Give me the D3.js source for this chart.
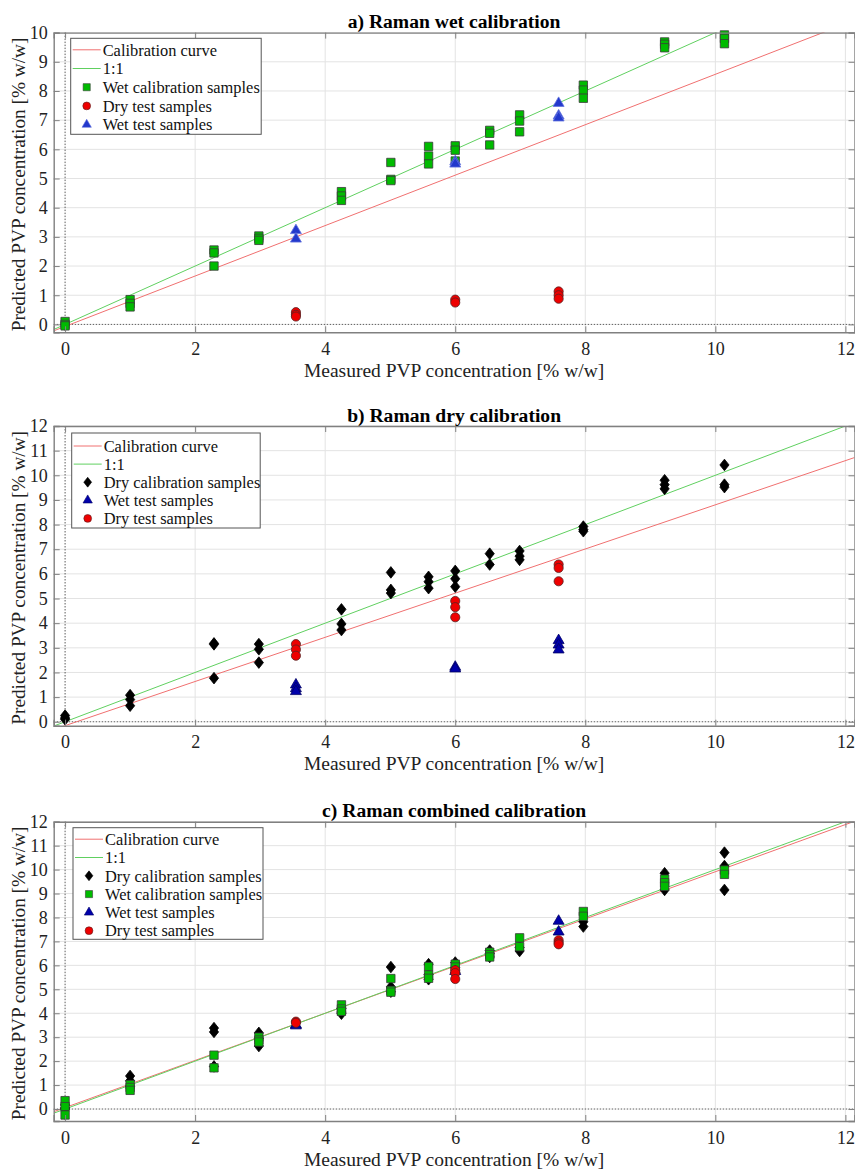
<!DOCTYPE html>
<html><head><meta charset="utf-8">
<script src="https://cdn.jsdelivr.net/npm/d3@7"></script>
<style>body{margin:0;background:#fff} svg{display:block}</style>
</head><body><svg id="chart" width="855" height="1169"></svg>
<script>
// ---------- data ----------
const xTicks = [0, 2, 4, 6, 8, 10, 12];
const yTicksA = [0,1,2,3,4,5,6,7,8,9,10];
const yTicksBC = [0,1,2,3,4,5,6,7,8,9,10,11,12];

// Panel a) Raman wet calibration
const aWetCal = [[0,0.1],[0,0.0],[0,-0.05],[1,0.85],[1,0.72],[1,0.6],[2.29,2.55],[2.29,2.45],[2.29,2.0],
  [2.98,3.03],[2.98,2.95],[2.98,2.88],[4.25,4.55],[4.25,4.4],[4.25,4.25],[5.01,5.55],[5.01,4.97],[5.01,4.93],
  [5.59,6.1],[5.59,5.77],[5.59,5.5],[6,6.12],[6,5.97],[6,5.6],[6.53,6.65],[6.53,6.55],[6.53,6.15],
  [6.99,7.18],[6.99,6.97],[6.99,6.6],[7.97,8.2],[7.97,8.03],[7.97,7.75],[9.22,9.68],[9.22,9.6],[9.22,9.48],
  [10.14,9.92],[10.14,9.8],[10.14,9.62]];
const aDryTest = [[3.55,0.42],[3.55,0.33],[3.55,0.27],[6,0.85],[6,0.75],[7.59,1.13],[7.59,1.0],[7.59,0.88]];
const aWetTest = [[3.55,3.22],[3.55,2.93],[6,5.58],[6,5.5],[7.59,7.58],[7.59,7.15],[7.59,7.08]];
const aCalib = {slope: 0.864, intercept: -0.069};

// Panel b) Raman dry calibration
const bDryCal = [[0,0.25],[0,0.15],[0,0.1],[1,1.08],[1,0.9],[1,0.65],[2.29,3.18],[2.29,3.14],[2.29,1.77],
  [2.98,3.15],[2.98,2.94],[2.98,2.4],[4.25,4.56],[4.25,3.97],[4.25,3.72],[5.01,6.06],[5.01,5.35],[5.01,5.22],
  [5.59,5.88],[5.59,5.68],[5.59,5.42],[6,6.12],[6,5.8],[6,5.48],[6.53,6.82],[6.53,6.38],
  [6.99,6.93],[6.99,6.72],[6.99,6.57],[7.97,7.92],[7.97,7.8],[7.97,7.73],[9.22,9.8],[9.22,9.62],[9.22,9.45],
  [10.14,10.42],[10.14,9.62],[10.14,9.52]];
const bWetTest = [[3.55,1.5],[3.55,1.35],[3.55,1.23],[6,2.22],[6,2.15],[7.59,3.3],[7.59,3.12],[7.59,2.92]];
const bDryTest = [[3.55,3.15],[3.55,2.93],[3.55,2.68],[6,4.9],[6,4.65],[6,4.24],[7.59,6.38],[7.59,6.24],[7.59,5.7]];
const bCalib = {slope: 0.896, intercept: -0.158};

// Panel c) Raman combined calibration
const cDryCal = [[0,0.17],[0,0.05],[0,0.0],[1,1.38],[1,1.18],[1,0.95],[2.29,3.38],[2.29,3.22],[2.29,1.78],
  [2.98,3.18],[2.98,2.95],[2.98,2.63],[4.25,4.2],[4.25,4.05],[4.25,3.98],[5.01,5.93],[5.01,5.1],[5.01,4.9],
  [5.59,6.05],[5.59,5.62],[5.59,5.42],[6,6.12],[6,5.9],[6,5.7],[6.53,6.62],[6.53,6.5],[6.53,6.35],
  [6.99,6.75],[6.99,6.6],[7.97,7.82],[7.97,7.62],[9.22,9.85],[9.22,9.15],[10.14,10.71],[10.14,10.15],[10.14,9.15]];
const cWetCal = [[0,0.35],[0,0.1],[0,-0.25],[1,1.02],[1,0.9],[1,0.78],[2.29,2.25],[2.29,1.72],
  [2.98,3.0],[2.98,2.88],[2.98,2.8],[4.25,4.35],[4.25,4.18],[4.25,4.08],[5.01,5.45],[5.01,4.95],[5.01,4.88],
  [5.59,5.95],[5.59,5.6],[5.59,5.46],[6,6.05],[6,5.93],[6.53,6.55],[6.53,6.45],[6.53,6.35],
  [6.99,7.15],[6.99,6.78],[7.97,8.25],[7.97,8.05],[9.22,9.6],[9.22,9.45],[9.22,9.3],[10.14,9.98],[10.14,9.8]];
const cWetTest = [[3.55,3.52],[3.55,3.48],[6,5.75],[7.59,7.85],[7.59,7.4]];
const cDryTest = [[3.55,3.65],[3.55,3.6],[6,5.8],[6,5.68],[6,5.43],[7.59,7.05],[7.59,6.95],[7.59,6.88]];
const cCalib = {slope: 0.985, intercept: 0.06};

const titles = ["a) Raman wet calibration", "b) Raman dry calibration", "c) Raman combined calibration"];
const xLabel = "Measured PVP concentration [% w/w]";
const yLabel = "Predicted PVP concentration [% w/w]";

// ---------- styles ----------
const FONT = "Liberation Serif";
const styles = {
  wetCal:  {shape: "square",   fill: "#00bb00", stroke: "#3a3a3a", label: "Wet calibration samples"},
  dryCal:  {shape: "diamond",  fill: "#000000", stroke: "#000000", label: "Dry calibration samples"},
  dryTest: {shape: "circle",   fill: "#ee0000", stroke: "#552222", label: "Dry test samples"},
  wetTestA:{shape: "triangle", fill: "#2238cc", stroke: "#6070dd", label: "Wet test samples"},
  wetTest: {shape: "triangle", fill: "#0000aa", stroke: "#000066", label: "Wet test samples"}
};
const calColor = "#f07070", oneColor = "#60d060";

const svg = d3.select("#chart");
const xDomain = [-0.175, 12.14];
const xRange = [53.7, 854.5];

function symbolPath(shape, scale) {
  const s = scale || 1;
  if (shape === "square") return d3.symbol(d3.symbolSquare, 70 * s * s)();
  if (shape === "circle") return d3.symbol(d3.symbolCircle, 66 * s * s)();
  if (shape === "triangle") return d3.symbol(d3.symbolTriangle, 52 * s * s)();
  if (shape === "diamond") {
    const w = 4.6 * s, h = 5.8 * s;
    return `M0,${-h}L${w},0L0,${h}L${-w},0Z`;
  }
}

function drawPanel(cfg) {
  const g = svg.append("g");
  const x = d3.scaleLinear().domain(xDomain).range(xRange);
  const y = d3.scaleLinear().domain(cfg.yDomain).range([cfg.bottom, cfg.top]);
  const [x0, x1] = xRange;

  // grid
  g.append("g").selectAll("line").data(xTicks.filter(t => t !== 0)).join("line")
    .attr("x1", d => x(d)).attr("x2", d => x(d)).attr("y1", cfg.top).attr("y2", cfg.bottom)
    .attr("stroke", "#e3e3e3").attr("stroke-width", 1);
  g.append("g").selectAll("line").data(cfg.yTicks.filter(t => t !== 0)).join("line")
    .attr("x1", x0).attr("x2", x1).attr("y1", d => y(d)).attr("y2", d => y(d))
    .attr("stroke", "#e3e3e3").attr("stroke-width", 1);

  // dotted zero lines
  g.append("line").attr("x1", x(0)).attr("x2", x(0)).attr("y1", cfg.top).attr("y2", cfg.bottom)
    .attr("stroke", "#333").attr("stroke-width", 0.8).attr("stroke-dasharray", "1.5,1.5");
  g.append("line").attr("x1", x0).attr("x2", x1).attr("y1", y(0)).attr("y2", y(0))
    .attr("stroke", "#333").attr("stroke-width", 0.8).attr("stroke-dasharray", "1.5,1.5");

  // clip for lines
  const clipId = "clip" + cfg.id;
  svg.append("defs").append("clipPath").attr("id", clipId).append("rect")
    .attr("x", x0).attr("y", cfg.top).attr("width", x1 - x0).attr("height", cfg.bottom - cfg.top);
  const lines = g.append("g").attr("clip-path", `url(#${clipId})`);
  const xa = xDomain[0], xb = xDomain[1];
  lines.append("line").attr("x1", x(xa)).attr("y1", y(cfg.calib.slope * xa + cfg.calib.intercept))
    .attr("x2", x(xb)).attr("y2", y(cfg.calib.slope * xb + cfg.calib.intercept))
    .attr("stroke", calColor).attr("stroke-width", 1);
  lines.append("line").attr("x1", x(xa)).attr("y1", y(xa)).attr("x2", x(xb)).attr("y2", y(xb))
    .attr("stroke", oneColor).attr("stroke-width", 1);

  // series
  cfg.series.forEach(s => {
    const st = styles[s.style];
    g.append("g").selectAll("path").data(s.data).join("path")
      .attr("d", symbolPath(st.shape))
      .attr("transform", d => `translate(${x(d[0])},${y(d[1])})`)
      .attr("fill", st.fill).attr("stroke", st.stroke).attr("stroke-width", 0.8);
  });

  // axes
  const axisColor = "#808080";
  const bottom = g.append("g").attr("transform", `translate(0,${cfg.bottom})`)
    .call(d3.axisBottom(x).tickValues(xTicks).tickSize(-6).tickPadding(10).tickFormat(d3.format("d")));
  const left = g.append("g").attr("transform", `translate(${x0},0)`)
    .call(d3.axisLeft(y).tickValues(cfg.yTicks).tickSize(-6).tickPadding(6).tickFormat(d3.format("d")));
  const top = g.append("g").attr("transform", `translate(0,${cfg.top})`)
    .call(d3.axisTop(x).tickValues(xTicks).tickSize(-6).tickFormat(""));
  const right = g.append("g").attr("transform", `translate(${x1},0)`)
    .call(d3.axisRight(y).tickValues(cfg.yTicks).tickSize(-6).tickFormat(""));
  [bottom, left, top, right].forEach(a => {
    a.select(".domain").attr("stroke", axisColor).attr("stroke-width", 1.4);
    a.selectAll(".tick line").attr("stroke", axisColor);
    a.selectAll("text").style("font-family", FONT).style("font-size", "18px").attr("fill", "#222");
  });

  // title
  g.append("text").attr("x", (x0 + x1) / 2).attr("y", cfg.top - 4.5).attr("text-anchor", "middle")
    .style("font-family", FONT).style("font-size", "19.6px").style("font-weight", "bold").attr("fill", "#000")
    .text(cfg.title);
  // axis labels
  g.append("text").attr("x", (x0 + x1) / 2).attr("y", cfg.bottom + 44.5).attr("text-anchor", "middle")
    .style("font-family", FONT).style("font-size", "19.5px").attr("fill", "#222").text(xLabel);
  g.append("text").attr("transform", `translate(24.5,${(cfg.top + cfg.bottom) / 2 + 2}) rotate(-90)`)
    .attr("text-anchor", "middle").style("font-family", FONT).style("font-size", "19.3px").attr("fill", "#222")
    .text(yLabel);

  // legend
  const L = cfg.legend;
  const lg = g.append("g");
  lg.append("rect").attr("x", L.x).attr("y", L.y).attr("width", L.w).attr("height", L.h)
    .attr("fill", "#fff").attr("stroke", "#555").attr("stroke-width", 1);
  const entries = [{type: "line", color: calColor, label: "Calibration curve"},
                   {type: "line", color: oneColor, label: "1:1"}]
    .concat(cfg.series.map(s => ({type: "marker", style: s.style, label: styles[s.style].label})));
  entries.forEach((e, i) => {
    const cy = L.y + L.first + i * L.step;
    if (e.type === "line") {
      lg.append("line").attr("x1", L.x + 2).attr("x2", L.x + 30).attr("y1", cy).attr("y2", cy)
        .attr("stroke", e.color).attr("stroke-width", 1);
    } else {
      const st = styles[e.style];
      lg.append("path").attr("d", symbolPath(st.shape, 0.85)).attr("transform", `translate(${L.x + 16},${cy})`)
        .attr("fill", st.fill).attr("stroke", st.stroke).attr("stroke-width", 0.6);
    }
    lg.append("text").attr("x", L.x + 32).attr("y", cy).attr("dy", "0.35em")
      .style("font-family", FONT).style("font-size", "16.4px").attr("fill", "#111").text(e.label);
  });
}

drawPanel({id: "a", top: 32.6, bottom: 332.3, yDomain: [-0.27, 10], yTicks: yTicksA, title: titles[0],
  calib: aCalib,
  series: [{style: "wetCal", data: aWetCal}, {style: "dryTest", data: aDryTest}, {style: "wetTestA", data: aWetTest}],
  legend: {x: 70.7, y: 38.3, w: 190.5, h: 96, first: 11.5, step: 18.7}});

drawPanel({id: "b", top: 426, bottom: 725.7, yDomain: [-0.16, 12], yTicks: yTicksBC, title: titles[1],
  calib: bCalib,
  series: [{style: "dryCal", data: bDryCal}, {style: "wetTest", data: bWetTest}, {style: "dryTest", data: bDryTest}],
  legend: {x: 71.7, y: 433, w: 188.5, h: 95, first: 13, step: 18.1}});

drawPanel({id: "c", top: 821.7, bottom: 1121, yDomain: [-0.5, 12], yTicks: yTicksBC, title: titles[2],
  calib: cCalib,
  series: [{style: "dryCal", data: cDryCal}, {style: "wetCal", data: cWetCal},
           {style: "wetTest", data: cWetTest}, {style: "dryTest", data: cDryTest}],
  legend: {x: 73, y: 827.7, w: 190, h: 111.6, first: 11.5, step: 18.3}});
</script>
</body></html>
